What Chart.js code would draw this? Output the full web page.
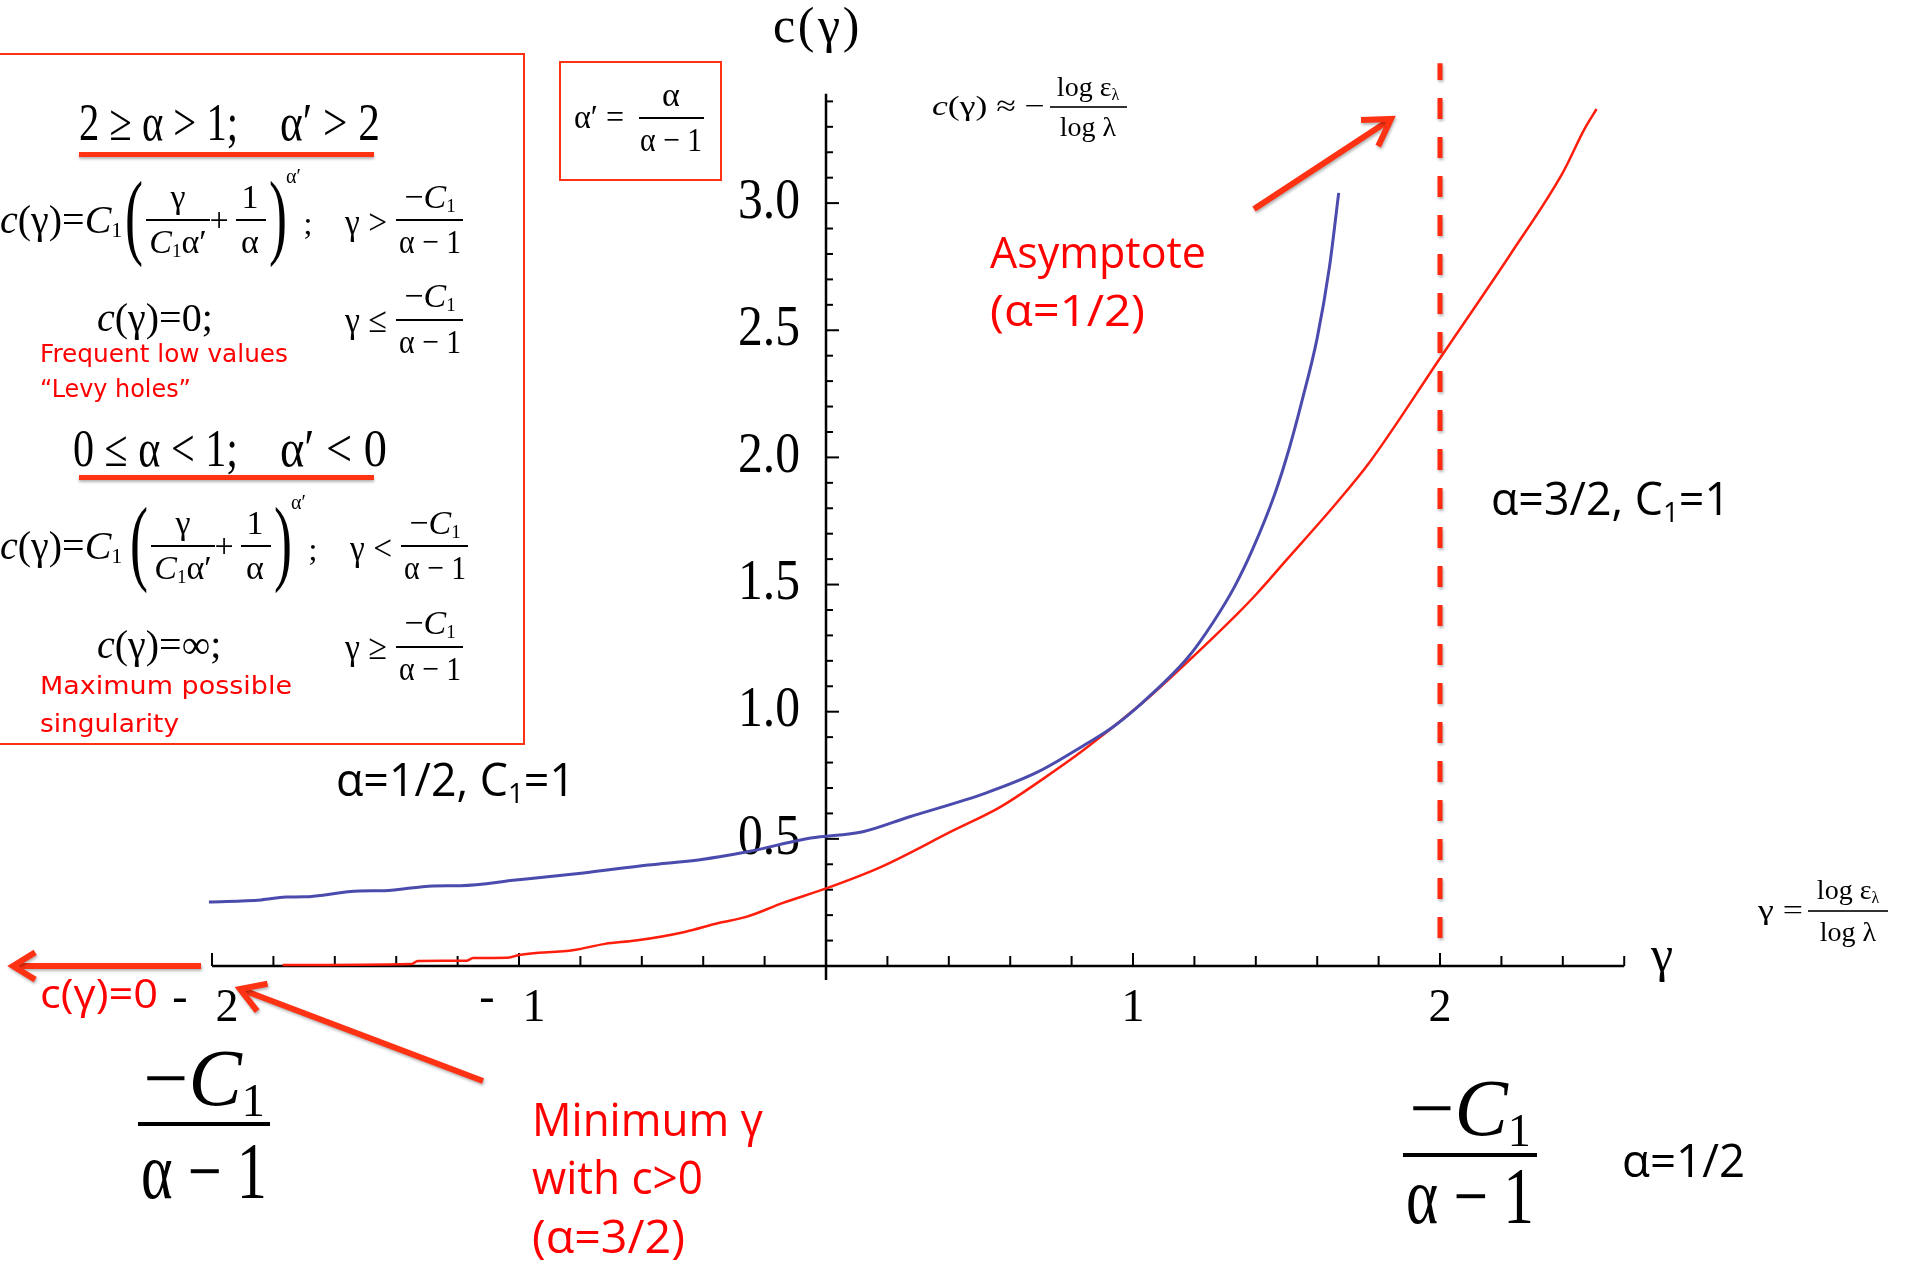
<!DOCTYPE html>
<html>
<head>
<meta charset="utf-8">
<script src="https://cdn.jsdelivr.net/npm/chart.js@4.4.0/dist/chart.umd.min.js"></script>
<style>
  html, body { margin: 0; padding: 0; background: #fff; }
  #wrap { width: 1910px; height: 1265px; }
</style>
</head>
<body>
<div id="wrap"><canvas id="chart" width="1910" height="1265"></canvas></div>
<script>
// curvas
const blueGamma = [-2.01, -1.84, -1.76, -1.70, -1.52, -1.44, -1.28, -1.19, -1.01, -0.79, -0.58, -0.41, -0.26, -0.05, 0.12, 0.27, 0.52, 0.69, 0.85, 0.93, 1.03, 1.18, 1.26, 1.33, 1.39, 1.46, 1.51, 1.55, 1.60, 1.64, 1.67];
const blueC = [0.252, 0.260, 0.271, 0.272, 0.295, 0.296, 0.315, 0.316, 0.338, 0.366, 0.397, 0.418, 0.448, 0.503, 0.528, 0.586, 0.680, 0.763, 0.875, 0.936, 1.035, 1.215, 1.35, 1.49, 1.64, 1.85, 2.04, 2.22, 2.47, 2.75, 3.04];

const redGamma = [-1.77, -1.35, -1.33, -1.17, -1.15, -1.04, -1.00, -0.82, -0.72, -0.62, -0.46, -0.35, -0.26, -0.14, 0.00, 0.18, 0.41, 0.57, 0.70, 0.84, 1.03, 1.15, 1.34, 1.40, 1.50, 1.66, 1.77, 2.00, 2.23, 2.40, 2.47, 2.51];
const redC = [0.004, 0.008, 0.020, 0.021, 0.031, 0.032, 0.043, 0.063, 0.087, 0.100, 0.134, 0.169, 0.193, 0.248, 0.305, 0.390, 0.530, 0.627, 0.730, 0.850, 1.034, 1.165, 1.385, 1.460, 1.597, 1.817, 1.980, 2.390, 2.800, 3.12, 3.29, 3.37];

const asymptoteGamma = [2, 2];
const asymptoteC = [0.11, 3.55];

const xTickValues = [-2, -1, 1, 2];
const xTickLabels = ['- 2', '- 1', '1', '2'];
const yTickValues = [0.5, 1.0, 1.5, 2.0, 2.5, 3.0];
const yTickLabels = ['0.5', '1.0', '1.5', '2.0', '2.5', '3.0'];
const xAxisRange = [-2, 2.6];
const yAxisRange = [-0.055, 3.43];
const xMinorStep = 0.2;
const yMinorStep = 0.1;

const SERIF = '"Liberation Serif", "DejaVu Serif", serif';
const SANS_C = '"Open Sans", sans-serif';
const SANS_V = '"DejaVu Sans", sans-serif';
const RED = '#ff0000';
const ORANGE = '#ff3314';

const sf = (size, style) => (style ? style + ' ' : '') + size + 'px ' + SERIF;
const os = size => size + 'px ' + SANS_C;

// dibuja trozos de texto seguidos (para subindices, cursivas...)
function runs(ctx, x, y, parts, opt) {
    opt = opt || {};
    let w = 0;
    parts.forEach(p => { ctx.font = p.font; p.w = ctx.measureText(p.t).width; w += p.w; });
    const sx = opt.w ? opt.w / w : 1;
    const tw = w * sx;
    let x0 = opt.align === 'center' ? x - tw / 2 : opt.align === 'right' ? x - tw : x;
    ctx.save();
    ctx.translate(x0, y);
    ctx.scale(sx, 1);
    ctx.textAlign = 'left';
    ctx.textBaseline = 'middle';
    let cx = 0;
    parts.forEach(p => {
        ctx.font = p.font;
        ctx.fillStyle = p.color || opt.color || '#000';
        ctx.fillText(p.t, cx, p.dy || 0);
        cx += p.w;
    });
    ctx.restore();
}

function frac(ctx, cx, yBar, x0, x1, num, den, dn, dd, lw, denW) {
    runs(ctx, cx, yBar - dn, num, { align: 'center' });
    runs(ctx, cx, yBar + dd, den, { align: 'center', w: denW });
    ctx.fillStyle = '#000';
    ctx.fillRect(x0, yBar - (lw || 2) / 2, x1 - x0, lw || 2);
}

function bigParen(ctx, ch, cx, cy, size, w) {
    ctx.save();
    ctx.font = sf(size);
    ctx.textAlign = 'center';
    ctx.textBaseline = 'middle';
    ctx.fillStyle = '#000';
    ctx.fillText(ch, cx, cy, w);
    ctx.restore();
}

function arrow(ctx, x0, y0, x1, y1, lw, head) {
    ctx.save();
    ctx.strokeStyle = ORANGE;
    ctx.lineWidth = lw;
    ctx.lineCap = 'butt';
    ctx.lineJoin = 'miter';
    ctx.shadowColor = 'rgba(0,0,0,0.3)';
    ctx.shadowBlur = 3;
    ctx.shadowOffsetX = 1;
    ctx.shadowOffsetY = 2;
    const a = Math.atan2(y1 - y0, x1 - x0);
    ctx.beginPath();
    ctx.moveTo(x0, y0);
    ctx.lineTo(x1 - Math.cos(a) * 3, y1 - Math.sin(a) * 3);
    ctx.stroke();
    ctx.beginPath();
    ctx.moveTo(x1 - head * Math.cos(a - 0.55), y1 - head * Math.sin(a - 0.55));
    ctx.lineTo(x1, y1);
    ctx.lineTo(x1 - head * Math.cos(a + 0.55), y1 - head * Math.sin(a + 0.55));
    ctx.stroke();
    ctx.restore();
}

// una linea de la formula c(γ)=C1(γ/(C1α')+1/α)^α' ; γ op -C1/(α-1)
function formulaLine(ctx, yc, op, dx) {
    runs(ctx, 0, yc, [
        { t: 'c', font: sf(40, 'italic') }, { t: '(γ)', font: sf(40) }, { t: '=', font: sf(40) },
        { t: 'C', font: sf(40, 'italic') }, { t: '1', font: sf(22), dy: 9 }
    ]);
    bigParen(ctx, '(', 134 + dx, yc, 96, 18);
    frac(ctx, 178 + dx, yc - 2, 146 + dx, 210 + dx,
        [{ t: 'γ', font: sf(34) }],
        [{ t: 'C', font: sf(34, 'italic') }, { t: '1', font: sf(19), dy: 8 }, { t: 'α′', font: sf(34) }], 21, 24);
    runs(ctx, 219 + dx, yc, [{ t: '+', font: sf(34) }], { align: 'center' });
    frac(ctx, 250 + dx, yc - 2, 236 + dx, 266 + dx,
        [{ t: '1', font: sf(34) }], [{ t: 'α', font: sf(34) }], 21, 24);
    bigParen(ctx, ')', 278 + dx, yc, 96, 18);
    runs(ctx, 286 + dx, yc - 44, [{ t: 'α′', font: sf(20) }]);
    runs(ctx, 308 + dx, yc + 4, [{ t: ';', font: sf(32) }], { align: 'center' });
    runs(ctx, 345 + dx, yc + 3, [{ t: 'γ ' + op, font: sf(36) }], { w: 42 });
    frac(ctx, 430 + dx, yc - 2, 396 + dx, 463 + dx,
        [{ t: '−', font: sf(34) }, { t: 'C', font: sf(34, 'italic') }, { t: '1', font: sf(19), dy: 8 }],
        [{ t: 'α − 1', font: sf(34) }], 21, 24, 2, 62);
}

function simpleLine(ctx, yc, rhs, op) {
    runs(ctx, 97, yc, [
        { t: 'c', font: sf(40, 'italic') }, { t: '(γ)', font: sf(40) }, { t: '=', font: sf(40) }, { t: rhs, font: sf(40) }
    ]);
    runs(ctx, 345, yc + 3, [{ t: 'γ ' + op, font: sf(36) }], { w: 42 });
    frac(ctx, 430, yc, 396, 463,
        [{ t: '−', font: sf(34) }, { t: 'C', font: sf(34, 'italic') }, { t: '1', font: sf(19), dy: 8 }],
        [{ t: 'α − 1', font: sf(34) }], 22, 24, 2, 62);
}

const axesPlugin = {
    id: 'axesMathematica',
    beforeDatasetsDraw(chart) {
        const ctx = chart.ctx;
        const xs = chart.scales.x, ys = chart.scales.y;
        const X = v => xs.getPixelForValue(v), Y = v => ys.getPixelForValue(v);
        ctx.save();
        ctx.strokeStyle = '#000';
        ctx.lineWidth = 2.5;
        const seg = (a, b, c, d) => { ctx.beginPath(); ctx.moveTo(a, b); ctx.lineTo(c, d); ctx.stroke(); };
        seg(X(xAxisRange[0]), Y(0), X(xAxisRange[1]), Y(0));
        seg(X(0), Y(yAxisRange[0]), X(0), Y(yAxisRange[1]));
        ctx.lineWidth = 2;
        for (let k = Math.round(xAxisRange[0] / xMinorStep); k * xMinorStep <= xAxisRange[1] + 1e-9; k++) {
            const v = k * xMinorStep;
            if (Math.abs(v) < 1e-9) continue;
            const major = Math.abs(v - Math.round(v)) < 1e-9;
            seg(X(v), Y(0), X(v), Y(0) - (major ? 13 : 10));
        }
        for (let k = 1; k * yMinorStep <= yAxisRange[1] + 1e-9; k++) {
            const v = k * yMinorStep;
            const major = Math.abs(v * 2 - Math.round(v * 2)) < 1e-9;
            seg(X(0), Y(v), X(0) + (major ? 13 : 7), Y(v));
        }
        ctx.restore();

        // etiquetas de ticks
        xTickValues.forEach((v, i) => {
            const parts = xTickLabels[i].split(' ');
            const px = X(v), py = Y(0) + 43;
            if (parts.length > 1) {
                runs(ctx, px - 32, py - 10, [{ t: parts[0], font: sf(46) }], { align: 'center' });
                runs(ctx, px + 15, py, [{ t: parts[1], font: sf(46) }], { align: 'center' });
            } else {
                runs(ctx, px, py, [{ t: parts[0], font: sf(46) }], { align: 'center' });
            }
        });
        yTickValues.forEach((v, i) => {
            runs(ctx, X(0) - 26, Y(v), [{ t: yTickLabels[i], font: sf(56) }], { align: 'right', w: 62 });
        });
    },
    beforeDatasetDraw(chart, args) {
        if (args.index === 2) {
            const ctx = chart.ctx;
            ctx.save();
            ctx.shadowColor = 'rgba(0,0,0,0.3)';
            ctx.shadowBlur = 3;
            ctx.shadowOffsetX = 1;
            ctx.shadowOffsetY = 2;
        }
    },
    afterDatasetDraw(chart, args) {
        if (args.index === 2) chart.ctx.restore();
    },
    afterDraw(chart) {
        const ctx = chart.ctx;
        ctx.save();

        // caja grande de la izquierda
        ctx.strokeStyle = ORANGE;
        ctx.lineWidth = 2;
        ctx.strokeRect(-2, 54, 526, 690);
        // caja α'
        ctx.strokeRect(560, 62, 161, 118);

        // cabeceras subrayadas
        runs(ctx, 79, 126, [{ t: '2 ≥ α > 1;', font: sf(52) }], { w: 159 });
        runs(ctx, 280, 126, [{ t: 'α′ > 2', font: sf(52) }], { w: 100 });
        runs(ctx, 73, 452, [{ t: '0 ≤ α < 1;', font: sf(52) }], { w: 165 });
        runs(ctx, 280, 452, [{ t: 'α′ < 0', font: sf(52) }], { w: 107 });
        ctx.save();
        ctx.fillStyle = ORANGE;
        ctx.shadowColor = 'rgba(0,0,0,0.3)';
        ctx.shadowBlur = 3;
        ctx.shadowOffsetY = 2;
        ctx.fillRect(79, 152, 295, 5);
        ctx.fillRect(79, 475, 295, 5);
        ctx.restore();

        formulaLine(ctx, 222, '>', 0);
        simpleLine(ctx, 320, '0;', '≤');
        formulaLine(ctx, 548, '<', 5);
        simpleLine(ctx, 647, '∞;', '≥');

        runs(ctx, 40, 356, [{ t: 'Frequent low values', font: '24px ' + SANS_V }], { color: RED, w: 248 });
        runs(ctx, 40, 391, [{ t: '“Levy holes”', font: '24px ' + SANS_V }], { color: RED, w: 151 });
        runs(ctx, 40, 688, [{ t: 'Maximum possible', font: '24px ' + SANS_V }], { color: RED, w: 252 });
        runs(ctx, 40, 726, [{ t: 'singularity', font: '24px ' + SANS_V }], { color: RED, w: 139 });

        // α' = α/(α-1)
        runs(ctx, 574, 119, [{ t: 'α′ =', font: sf(34) }], { w: 50 });
        frac(ctx, 671, 118, 639, 704, [{ t: 'α', font: sf(34) }], [{ t: 'α − 1', font: sf(34) }], 21, 24, 2, 62);

        // titulo eje y
        [['c', 784], ['(', 806], ['γ', 829], [')', 851]].forEach(([ch, x]) => {
            runs(ctx, x, 29, [{ t: ch, font: sf(50) }], { align: 'center' });
        });
        // eje x
        runs(ctx, 1662, 958, [{ t: 'γ', font: sf(50) }], { align: 'center' });

        // c(γ) ≈ -log ε / log λ
        runs(ctx, 932, 108, [
            { t: 'c', font: sf(28, 'italic') }, { t: '(γ)', font: sf(28) }, { t: ' ≈ −', font: sf(28) }
        ], { w: 113 });
        frac(ctx, 1088, 107, 1050, 1127,
            [{ t: 'log ε', font: sf(28) }, { t: 'λ', font: sf(16), dy: 7 }],
            [{ t: 'log λ', font: sf(28) }], 18, 22, 1.6);

        // γ = log ε / log λ
        runs(ctx, 1758, 912, [{ t: 'γ =', font: sf(28) }], { w: 45 });
        frac(ctx, 1848, 911, 1808, 1888,
            [{ t: 'log ε', font: sf(28) }, { t: 'λ', font: sf(16), dy: 7 }],
            [{ t: 'log λ', font: sf(28) }], 19, 23, 1.6);

        // flechas
        arrow(ctx, 1254, 209, 1391, 119, 6, 30);
        arrow(ctx, 201, 966, 13, 966, 6, 26);
        arrow(ctx, 483, 1081, 240, 989, 6, 28);

        // rotulos rojos
        runs(ctx, 990, 256, [{ t: 'Asymptote', font: os(43) }], { color: RED, w: 216 });
        runs(ctx, 990, 314, [{ t: '(α=1/2)', font: os(43) }], { color: RED, w: 155 });
        runs(ctx, 40, 997, [{ t: 'c(γ)=0', font: os(40) }], { color: RED, w: 118 });
        runs(ctx, 532, 1123, [{ t: 'Minimum γ', font: os(45) }], { color: RED, w: 231 });
        runs(ctx, 532, 1181, [{ t: 'with c>0', font: os(45) }], { color: RED, w: 171 });
        runs(ctx, 532, 1240, [{ t: '(α=3/2)', font: os(45) }], { color: RED, w: 153 });

        // rotulos negros
        runs(ctx, 1491, 502, [{ t: 'α=3/2, C', font: os(45) }, { t: '1', font: os(28), dy: 12 }, { t: '=1', font: os(45) }], { w: 239 });
        runs(ctx, 336, 783, [{ t: 'α=1/2, C', font: os(45) }, { t: '1', font: os(28), dy: 12 }, { t: '=1', font: os(45) }], { w: 239 });
        runs(ctx, 1622, 1164, [{ t: 'α=1/2', font: os(45) }], { w: 123 });

        // -C1/(α-1) grandes
        frac(ctx, 204, 1124, 138, 270,
            [{ t: '−', font: sf(80) }, { t: 'C', font: sf(80, 'italic') }, { t: '1', font: sf(46), dy: 20 }],
            [{ t: 'α − 1', font: sf(80) }], 40, 53, 4, 126);
        frac(ctx, 1470, 1155, 1403, 1537,
            [{ t: '−', font: sf(80) }, { t: 'C', font: sf(80, 'italic') }, { t: '1', font: sf(46), dy: 20 }],
            [{ t: 'α − 1', font: sf(80) }], 41, 47, 4, 128);

        ctx.restore();
    }
};

const ctx = document.getElementById('chart').getContext('2d');
new Chart(ctx, {
    type: 'line',
    data: {
        datasets: [
            {
                label: 'α=1/2',
                data: blueGamma.map((g, i) => ({ x: g, y: blueC[i] })),
                borderColor: '#4b4bae',
                borderWidth: 3,
                pointRadius: 0,
                cubicInterpolationMode: 'monotone'
            },
            {
                label: 'α=3/2',
                data: redGamma.map((g, i) => ({ x: g, y: redC[i] })),
                borderColor: '#ff1e0c',
                borderWidth: 2.5,
                pointRadius: 0,
                cubicInterpolationMode: 'monotone'
            },
            {
                label: 'asymptote',
                data: asymptoteGamma.map((g, i) => ({ x: g, y: asymptoteC[i] })),
                borderColor: '#ff2a10',
                borderWidth: 5,
                borderDash: [21, 18],
                borderCapStyle: 'butt',
                pointRadius: 0
            }
        ]
    },
    options: {
        responsive: false,
        animation: false,
        devicePixelRatio: 1,
        layout: { padding: 0 },
        plugins: { legend: { display: false }, tooltip: { enabled: false } },
        scales: {
            x: { type: 'linear', min: -2.6906, max: 3.5309, display: false },
            y: { type: 'linear', min: -1.1758, max: 3.7987, display: false }
        }
    },
    plugins: [axesPlugin]
});
</script>
</body>
</html>
